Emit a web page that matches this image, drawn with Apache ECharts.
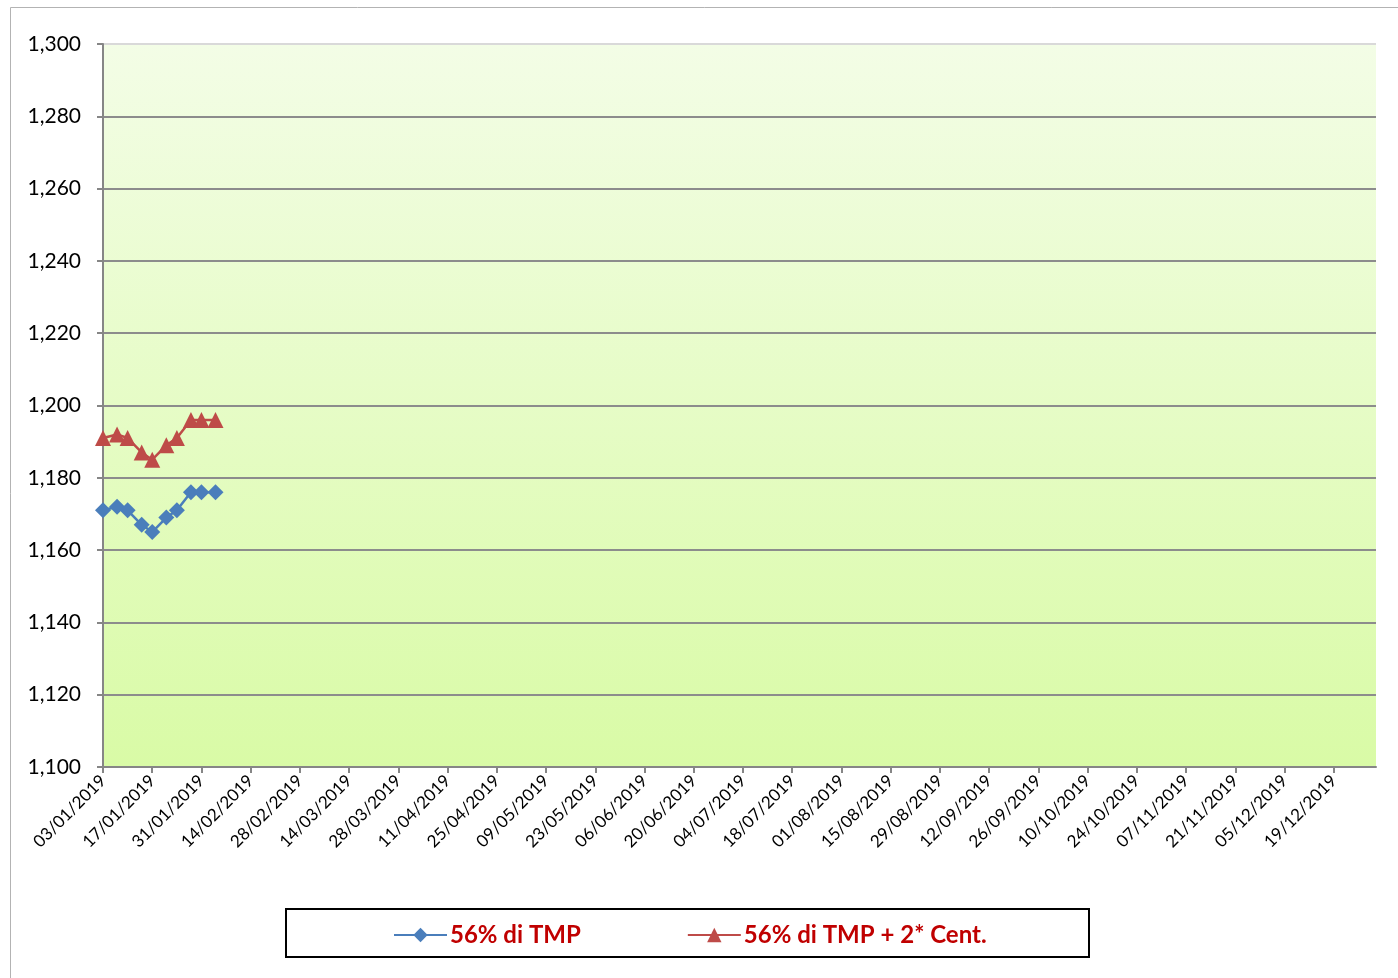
<!DOCTYPE html>
<html>
<head>
<meta charset="utf-8">
<script src="https://cdn.jsdelivr.net/npm/echarts@6/dist/echarts.min.js"></script>
<style>
  html, body { margin: 0; padding: 0; background: #fff; }
  #chart { width: 1398px; height: 978px; }
</style>
</head>
<body>
<div id="chart"></div>
<script>
// dates of the readings (dd/mm/yyyy)
const dates = ['03/01/2019', '07/01/2019', '10/01/2019', '14/01/2019', '17/01/2019',
  '21/01/2019', '24/01/2019', '28/01/2019', '31/01/2019', '04/02/2019']
const tmp56 = [1.171, 1.172, 1.171, 1.167, 1.165, 1.169, 1.171, 1.176, 1.176, 1.176]
const tmp56cent = [1.191, 1.192, 1.191, 1.187, 1.185, 1.189, 1.191, 1.196, 1.196, 1.196]
const seriesNames = ['56% di TMP', '56% di TMP + 2* Cent.']
// x axis: tick every 14 days from first date up to 19/12/2019, axis ends 31/12/2019
const axisStart = '03/01/2019'
const axisEnd = '31/12/2019'
const tickStepDays = 14
const yMin = 1.1, yMax = 1.3, yStep = 0.02

const DAY = 86400000
const parse = (s) => { const [d, m, y] = s.split('/').map(Number); return Date.UTC(y, m - 1, d) }
const t0 = parse(axisStart)
const toOffset = (s) => Math.round((parse(s) - t0) / DAY)
const fmtDate = (off) => {
  const d = new Date(t0 + off * DAY)
  const p = (n) => String(n).padStart(2, '0')
  return p(d.getUTCDate()) + '/' + p(d.getUTCMonth() + 1) + '/' + d.getUTCFullYear()
}
const endOff = toOffset(axisEnd)
const tickOffsets = []
for (let o = 0; o <= endOff; o += tickStepDays) tickOffsets.push(o)

// grid lines dark, top border line light
const nLines = Math.round((yMax - yMin) / yStep) + 1
const gridColors = []
for (let i = 0; i < nLines; i++) gridColors.push(i === nLines - 1 ? '#d9d9d9' : '#8c8c8c')

const font = 'Lato, "Open Sans", sans-serif'
const chart = echarts.init(document.getElementById('chart'), null, { renderer: 'canvas' })

chart.setOption({
  animation: false,
  textStyle: { fontFamily: font },
  graphic: [
    { type: 'rect', shape: { x: 10.5, y: 7.5, width: 1420, height: 1000 },
      style: { fill: null, stroke: '#b3b3b3', lineWidth: 1 }, z: 0 },
    { type: 'rect', shape: { x: 286, y: 909, width: 803, height: 48 },
      style: { fill: '#fff', stroke: '#000', lineWidth: 2 }, z: 0 }
  ],
  grid: {
    left: 103, top: 44, right: 22, bottom: 211,
    show: true,
    borderWidth: 0,
    backgroundColor: new echarts.graphic.LinearGradient(0, 0, 0, 1, [
      { offset: 0, color: '#f3fde6' },
      { offset: 1, color: '#d9fba6' }
    ])
  },
  legend: {
    left: 393, top: 923,
    padding: 0,
    itemWidth: 53, itemHeight: 18,
    itemGap: 106,
    z: 5,
    textStyle: { color: '#c00000', fontWeight: 'bold', fontSize: 24, fontFamily: font, padding: [0, 0, 0, -2] },
    data: seriesNames
  },
  xAxis: {
    type: 'value',
    min: 0, max: endOff,
    splitLine: { show: false },
    axisLine: { lineStyle: { color: '#868686', width: 2 } },
    axisTick: { show: true, length: 6, customValues: tickOffsets, lineStyle: { color: '#868686', width: 2 } },
    axisLabel: {
      customValues: tickOffsets,
      rotate: 45, margin: 11,
      color: '#000', fontSize: 17, fontFamily: font,
      formatter: (v) => fmtDate(v)
    }
  },
  yAxis: {
    type: 'value',
    min: yMin, max: yMax, interval: yStep,
    axisLine: { show: true, lineStyle: { color: '#868686', width: 2 } },
    axisTick: { show: true, length: 6, lineStyle: { color: '#868686', width: 2 } },
    splitLine: { lineStyle: { color: gridColors, width: 2 } },
    axisLabel: {
      color: '#000', fontSize: 21, fontFamily: font, margin: 22,
      formatter: (v) => v.toFixed(3).replace('.', ',')
    }
  },
  series: [
    {
      name: seriesNames[0], type: 'line',
      data: dates.map((d, i) => [toOffset(d), tmp56[i]]),
      symbol: 'diamond', symbolSize: 16,
      color: '#4a7ebb',
      lineStyle: { width: 2.5, color: '#4a7ebb' },
      itemStyle: { color: '#4a7ebb' }
    },
    {
      name: seriesNames[1], type: 'line',
      data: dates.map((d, i) => [toOffset(d), tmp56cent[i]]),
      symbol: 'triangle', symbolSize: 16,
      color: '#be4b48',
      lineStyle: { width: 2.5, color: '#be4b48' },
      itemStyle: { color: '#be4b48' }
    }
  ]
})
</script>
</body>
</html>
